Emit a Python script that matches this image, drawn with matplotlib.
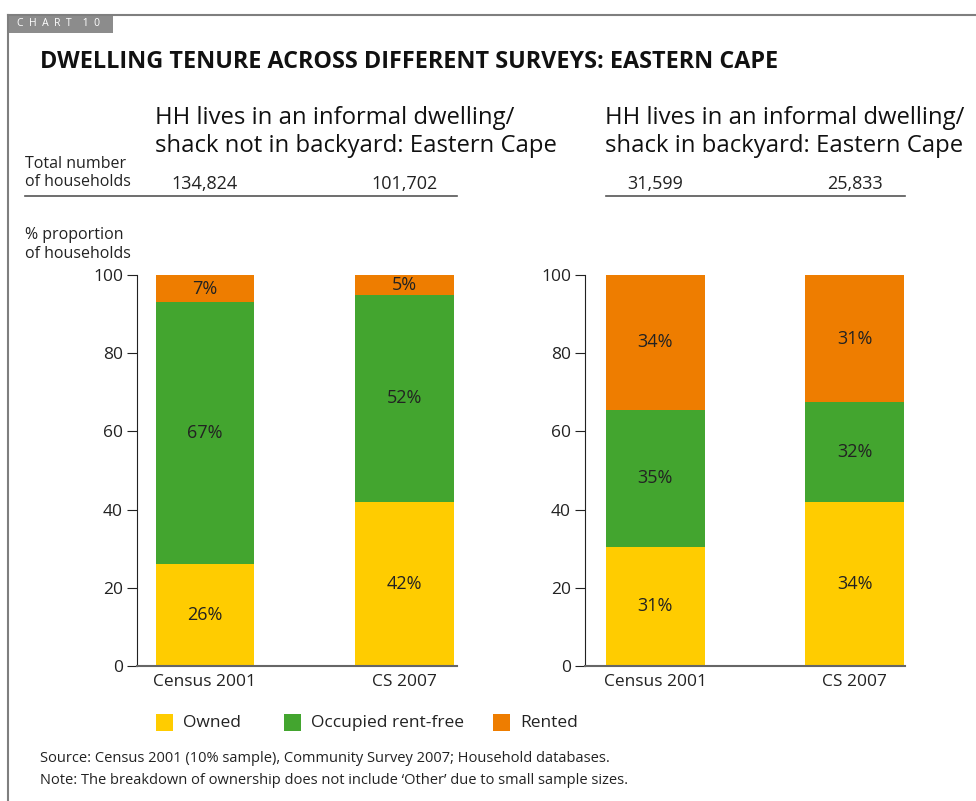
import matplotlib.pyplot as plt
from matplotlib.lines import Line2D
from matplotlib.patches import Rectangle
from matplotlib.transforms import blended_transform_factory

plt.rcParams['font.family'] = ['Open Sans', 'DejaVu Sans']

# data
surveys = ['Census 2001', 'CS 2007']
series = ['Owned', 'Occupied rent-free', 'Rented']
colors = ['#FFCC00', '#43A52F', '#EE7D00']

# panel 1: not in backyard
p1_title = 'HH lives in an informal dwelling/\nshack not in backyard: Eastern Cape'
p1_totals = ['134,824', '101,702']
p1_owned = [26, 42]
p1_rentfree = [67, 53]
p1_rented = [7, 5]
p1_labels = [['26%', '42%'], ['67%', '52%'], ['7%', '5%']]

# panel 2: in backyard (bar heights as drawn in the original)
p2_title = 'HH lives in an informal dwelling/\nshack in backyard: Eastern Cape'
p2_totals = ['31,599', '25,833']
p2_owned = [30.5, 42]
p2_rentfree = [35, 25.5]
p2_rented = [34.5, 32.5]
p2_labels = [['31%', '34%'], ['35%', '32%'], ['34%', '31%']]

W, H = 976, 801
fig = plt.figure(figsize=(W / 100, H / 100), dpi=100)


def fx(px):
    return px / W


def fy(py):
    return 1 - py / H


# frame and chart tag
fig.add_artist(Line2D([fx(8), 1], [fy(15), fy(15)], color='#7f7f7f', lw=1.5))
fig.add_artist(Line2D([fx(8), fx(8)], [fy(15), 0], color='#7f7f7f', lw=1.5))
fig.add_artist(Rectangle((fx(8), fy(33)), fx(105), 18 / H, color='#8c8c8c', lw=0))
fig.text(fx(17), fy(24), 'C  H  A  R  T    1  0', color='white', fontsize=7.5, va='center')

fig.text(fx(40), fy(62), 'DWELLING TENURE ACROSS DIFFERENT SURVEYS: EASTERN CAPE',
         fontsize=16.8, fontweight='bold', va='center', color='#111111')

fig.text(fx(25), fy(173), 'Total number\nof households', fontsize=11.5, va='center',
         color='#222222', linespacing=1.25)
fig.text(fx(25), fy(244), '% proportion\nof households', fontsize=11.5, va='center',
         color='#222222', linespacing=1.25)


def panel(left_px, xmin, line_left_px, title_x_px, title, totals, owned, rentfree, rented, labels):
    ax = fig.add_axes([fx(left_px), fy(666), fx(320), 391 / H])
    x = [0, 1]
    bottom = [0, 0]
    for vals, c, labs in zip([owned, rentfree, rented], colors, labels):
        ax.bar(x, vals, width=0.495, bottom=bottom, color=c, lw=0)
        for i in range(2):
            ax.text(x[i], bottom[i] + vals[i] / 2, labs[i], ha='center', va='center',
                    fontsize=13, color='#222222')
        bottom = [b + v for b, v in zip(bottom, vals)]
    ax.set_ylim(0, 100)
    ax.set_xlim(xmin, xmin + 1.605)
    ax.set_yticks([0, 20, 40, 60, 80, 100])
    ax.set_xticks(x)
    ax.set_xticklabels(surveys)
    for s in ['top', 'right']:
        ax.spines[s].set_visible(False)
    ax.spines['left'].set_color('#222222')
    ax.spines['bottom'].set_color('#666666')
    ax.spines['bottom'].set_linewidth(1.5)
    ax.tick_params(axis='y', length=7, color='#222222', labelsize=12.5, labelcolor='#222222', pad=3)
    ax.tick_params(axis='x', length=0, labelsize=12.5, labelcolor='#222222', pad=6)

    tr = blended_transform_factory(ax.transData, fig.transFigure)
    for i in range(2):
        ax.text(x[i], fy(184), totals[i], transform=tr, ha='center', va='center',
                fontsize=13, color='#222222')
    fig.add_artist(Line2D([fx(line_left_px), fx(left_px + 320)], [fy(196), fy(196)],
                          color='#555555', lw=1.2))
    fig.text(fx(title_x_px), fy(132), title, fontsize=17.2, va='center', color='#111111',
             linespacing=1.25)
    return ax


panel(137, -0.341, 25, 155, p1_title, p1_totals, p1_owned, p1_rentfree, p1_rented, p1_labels)
panel(585, -0.353, 606, 605, p2_title, p2_totals, p2_owned, p2_rentfree, p2_rented, p2_labels)

# legend
leg_x = [156, 284, 493]
for lx, c, name in zip(leg_x, colors, series):
    fig.add_artist(Rectangle((fx(lx), fy(731)), 17 / W, 17 / H, color=c, lw=0))
    fig.text(fx(lx + 27), fy(723), name, fontsize=12.5, va='center', color='#222222')

fig.text(fx(40), fy(759), 'Source: Census 2001 (10% sample), Community Survey 2007; Household databases.',
         fontsize=10.5, va='center', color='#222222')
fig.text(fx(40), fy(781), 'Note: The breakdown of ownership does not include \u2018Other\u2019 due to small sample sizes.',
         fontsize=10.5, va='center', color='#222222')

fig.savefig('out.png', dpi=100)
